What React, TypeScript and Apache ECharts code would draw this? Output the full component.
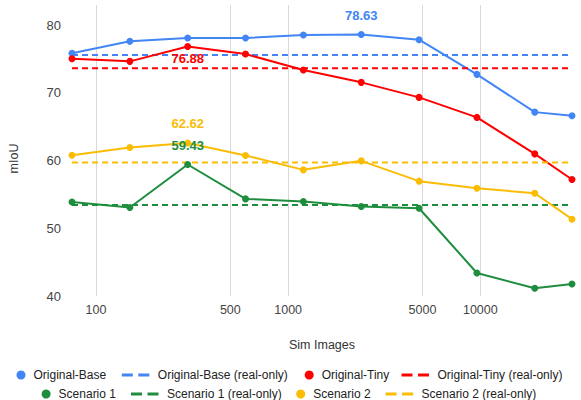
import React, { useEffect, useRef } from "react";
import * as echarts from "echarts";

const simImages = [75, 150, 300, 600, 1200, 2400, 4800, 9600, 19200, 30000];
const xTickValues = [100, 500, 1000, 5000, 10000];
const yTickValues = [40, 50, 60, 70, 80];

const originalBase = [75.86, 77.63, 78.12, 78.12, 78.56, 78.63, 77.87, 72.75, 67.17, 66.63];
const originalTiny = [75.06, 74.67, 76.88, 75.75, 73.39, 71.57, 69.35, 66.39, 61.0, 57.22];
const scenario1 = [53.9, 53.08, 59.43, 54.35, 53.96, 53.22, 52.97, 43.4, 41.14, 41.78];
const scenario2 = [60.81, 61.95, 62.62, 60.77, 58.64, 59.97, 56.97, 55.93, 55.19, 51.35];

const originalBaseRealOnly = 75.6;
const originalTinyRealOnly = 73.64;
const scenario1RealOnly = 53.46;
const scenario2RealOnly = 59.73;

const seriesNames = [
  "Original-Base",
  "Original-Base (real-only)",
  "Original-Tiny",
  "Original-Tiny (real-only)",
  "Scenario 1",
  "Scenario 1 (real-only)",
  "Scenario 2",
  "Scenario 2 (real-only)",
];

const BLUE = "#4285F4";
const RED = "#FF0000";
const GREEN = "#1E8E3E";
const YELLOW = "#FBBC04";
const FONT = "'Liberation Sans', Arial, sans-serif";

function solidSeries(name: string, values: number[], color: string, labelPos: string, labelDist: number) {
  let maxIdx = 0;
  values.forEach((v, i) => {
    if (v > values[maxIdx]) maxIdx = i;
  });
  return {
    name,
    type: "line",
    symbol: "circle",
    symbolSize: 7,
    color,
    itemStyle: { color },
    lineStyle: { color, width: 2 },
    data: values.map((v, i) => {
      const item: any = { value: [simImages[i], v] };
      if (i === maxIdx) {
        item.label = {
          show: true,
          position: labelPos,
          distance: labelDist,
          formatter: v.toFixed(2),
          color,
          fontWeight: "bold",
          fontSize: 13,
          fontFamily: FONT,
        };
      }
      return item;
    }),
  };
}

function dashedSeries(name: string, value: number, color: string) {
  return {
    name,
    type: "line",
    symbol: "none",
    color,
    itemStyle: { color },
    lineStyle: { color, width: 2, type: [6, 4] },
    data: [
      [simImages[0], value],
      [simImages[simImages.length - 1], value],
    ],
  };
}

const DASH_ICON = "path://M0,0H11V3H0Z M16.5,0H27.5V3H16.5Z";

function legendItem(name: string, dashed: boolean, left: number, top: number) {
  return {
    show: true,
    selectedMode: false,
    left,
    top,
    orient: "horizontal",
    padding: 0,
    itemWidth: dashed ? 27.5 : 9,
    itemHeight: dashed ? 3 : 9,
    data: [{ name, icon: dashed ? DASH_ICON : "circle" }],
    textStyle: {
      color: "#222",
      fontSize: 12,
      fontFamily: FONT,
      lineHeight: 14,
      padding: [0, 0, 0, dashed ? 3.5 : 3],
    },
  };
}

export default function App() {
  const ref = useRef<HTMLDivElement>(null);

  useEffect(() => {
    if (!ref.current) return;
    const chart = echarts.init(ref.current, null, { renderer: "svg" });
    const row1 = 368;
    const row2 = 387;
    const option: any = {
      animation: false,
      backgroundColor: "#ffffff",
      textStyle: { fontFamily: FONT },
      grid: {
        left: 72,
        top: 5,
        width: 500,
        height: 291,
        containLabel: false,
        outerBoundsMode: "none",
      },
      legend: [
        legendItem(seriesNames[0], false, 16.5, row1),
        legendItem(seriesNames[1], true, 121.8, row1),
        legendItem(seriesNames[2], false, 304.7, row1),
        legendItem(seriesNames[3], true, 401.5, row1),
        legendItem(seriesNames[4], false, 41.6, row2),
        legendItem(seriesNames[5], true, 131, row2),
        legendItem(seriesNames[6], false, 296.2, row2),
        legendItem(seriesNames[7], true, 385.6, row2),
      ],
      xAxis: {
        type: "log",
        logBase: 10,
        min: simImages[0],
        max: simImages[simImages.length - 1],
        name: "Sim Images",
        nameLocation: "middle",
        nameGap: 42,
        nameTextStyle: { color: "#333", fontSize: 12.5, fontFamily: FONT },
        axisLine: { show: false },
        axisTick: { show: false, customValues: xTickValues },
        axisLabel: {
          customValues: xTickValues,
          formatter: (v: number) => String(Math.round(v)),
          color: "#444",
          fontSize: 12.5,
          fontFamily: FONT,
          margin: 7,
        },
        splitLine: { show: true, lineStyle: { color: "#d9d9d9", width: 1 } },
      },
      yAxis: {
        type: "value",
        min: 40,
        max: 83,
        interval: 10,
        name: "mIoU",
        nameLocation: "middle",
        nameGap: 52,
        nameTextStyle: { color: "#333", fontSize: 12.5, fontFamily: FONT, padding: [0, 16, 0, 0] },
        axisLine: { show: false },
        axisTick: { show: false },
        splitLine: { show: false },
        axisLabel: {
          formatter: (v: number) => (yTickValues.indexOf(v) >= 0 ? String(v) : ""),
          color: "#444",
          fontSize: 13,
          fontFamily: FONT,
          margin: 11,
        },
      },
      series: [
        solidSeries(seriesNames[0], originalBase, BLUE, "top", 9),
        dashedSeries(seriesNames[1], originalBaseRealOnly, BLUE),
        solidSeries(seriesNames[2], originalTiny, RED, "bottom", 2),
        dashedSeries(seriesNames[3], originalTinyRealOnly, RED),
        solidSeries(seriesNames[4], scenario1, GREEN, "top", 9),
        dashedSeries(seriesNames[5], scenario1RealOnly, GREEN),
        solidSeries(seriesNames[6], scenario2, YELLOW, "top", 9),
        dashedSeries(seriesNames[7], scenario2RealOnly, YELLOW),
      ],
    };
    chart.setOption(option);
    return () => chart.dispose();
  }, []);

  return (
    <div
      ref={ref}
      style={{ position: "fixed", left: 0, top: 0, width: 581, height: 400, background: "#fff" }}
    />
  );
}
